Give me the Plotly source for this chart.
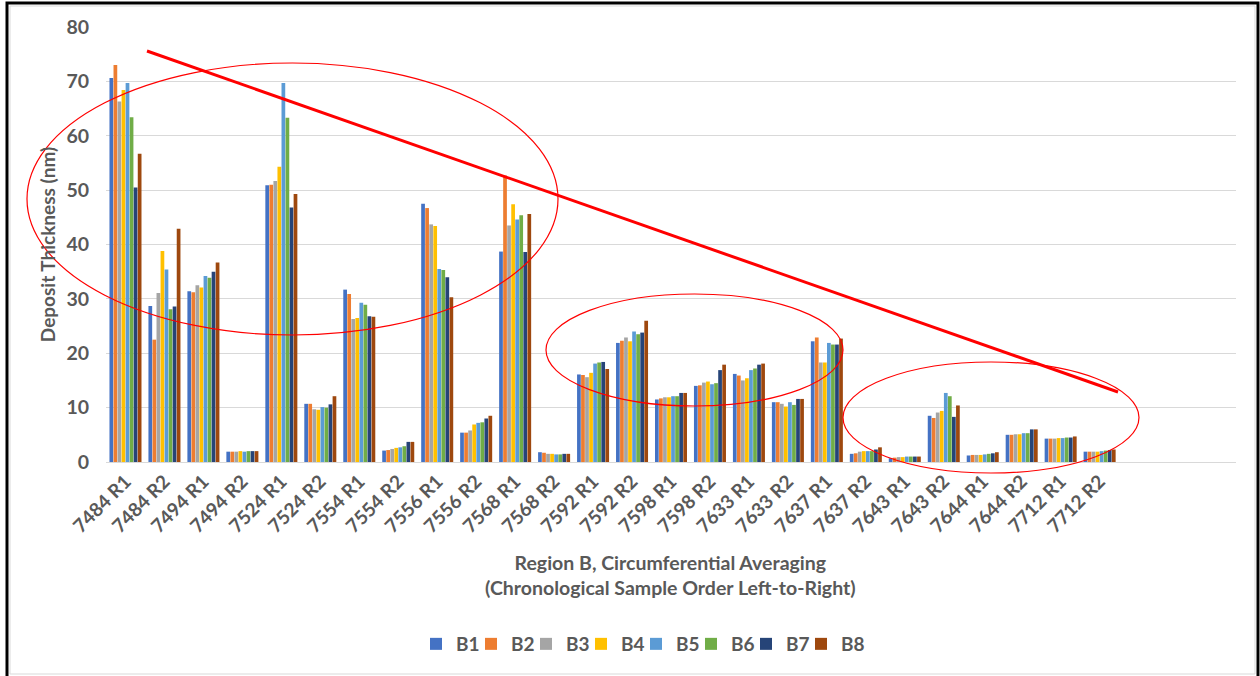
import plotly.graph_objects as go

# Sample identifiers (chronological order)
samples = ["7484 R1", "7484 R2", "7494 R1", "7494 R2", "7524 R1", "7524 R2",
           "7554 R1", "7554 R2", "7556 R1", "7556 R2", "7568 R1", "7568 R2",
           "7592 R1", "7592 R2", "7598 R1", "7598 R2", "7633 R1", "7633 R2",
           "7637 R1", "7637 R2", "7643 R1", "7643 R2", "7644 R1", "7644 R2",
           "7712 R1", "7712 R2"]

# Deposit thickness (nm) per circumferential position
B1 = [70.6, 28.7, 31.4, 1.9, 50.9, 10.7, 31.7, 2.1, 47.5, 5.4, 38.7, 1.8,
      16.1, 21.9, 11.5, 14.0, 16.2, 11.0, 22.2, 1.5, 0.7, 8.5, 1.2, 5.0, 4.3, 1.9]
B2 = [73.0, 22.5, 31.2, 1.9, 51.0, 10.7, 30.9, 2.2, 46.7, 5.4, 52.7, 1.7,
      16.0, 22.3, 11.7, 14.1, 15.9, 11.0, 22.9, 1.6, 0.8, 8.1, 1.3, 5.0, 4.3, 1.9]
B3 = [66.3, 31.1, 32.5, 1.9, 51.7, 9.7, 26.3, 2.4, 43.7, 5.8, 43.5, 1.5,
      15.6, 22.9, 11.9, 14.6, 15.0, 10.7, 18.3, 1.9, 0.9, 9.1, 1.3, 5.1, 4.3, 1.9]
B4 = [68.4, 38.8, 32.1, 2.0, 54.3, 9.6, 26.5, 2.6, 43.4, 6.9, 47.4, 1.5,
      16.4, 22.2, 11.9, 14.8, 15.4, 10.2, 18.3, 2.0, 0.9, 9.4, 1.3, 5.1, 4.4, 1.9]
B5 = [69.7, 35.4, 34.2, 1.9, 69.7, 10.1, 29.3, 2.7, 35.5, 7.2, 44.6, 1.4,
      18.1, 24.0, 12.1, 14.3, 16.9, 11.0, 21.9, 2.0, 1.0, 12.7, 1.4, 5.3, 4.4, 2.0]
B6 = [63.4, 28.1, 33.9, 2.0, 63.3, 10.0, 28.9, 2.9, 35.3, 7.3, 45.4, 1.4,
      18.3, 23.5, 12.1, 14.5, 17.2, 10.5, 21.6, 2.0, 1.0, 12.1, 1.5, 5.3, 4.5, 2.1]
B7 = [50.5, 28.6, 35.0, 2.0, 46.8, 10.6, 26.8, 3.7, 34.0, 8.0, 38.6, 1.5,
      18.4, 23.8, 12.7, 16.9, 17.9, 11.6, 21.6, 2.3, 1.0, 8.3, 1.6, 6.0, 4.5, 2.2]
B8 = [56.7, 42.9, 36.7, 2.0, 49.3, 12.1, 26.7, 3.7, 30.3, 8.5, 45.6, 1.5,
      17.1, 26.0, 12.7, 17.9, 18.1, 11.6, 22.7, 2.7, 1.0, 10.4, 1.8, 6.0, 4.7, 2.3]

series_names = ["B1", "B2", "B3", "B4", "B5", "B6", "B7", "B8"]
series_values = [B1, B2, B3, B4, B5, B6, B7, B8]
colors = ["#4472C4", "#ED7D31", "#A5A5A5", "#FFC000",
          "#5B9BD5", "#70AD47", "#264478", "#9E480E"]

y_ticks = [0, 10, 20, 30, 40, 50, 60, 70, 80]

FONT = "Lato"
TXT = "#595959"
W, H = 1260, 676
L, R, T, B = 106, 1236, 27, 462  # plot area in pixels


def px(x):
    return (x - L) / (R - L)


def py(y):
    return (B - y) / (B - T)


fig = go.Figure()
for name, vals, col in zip(series_names, series_values, colors):
    fig.add_trace(go.Bar(
        x=samples, y=vals, name=name,
        marker=dict(color=col, line=dict(width=0)),
    ))
# blank trailing legend slot so the last entry's label has room
fig.add_trace(go.Scatter(x=[None], y=[None], mode="markers", name=" ",
                         marker=dict(color="rgba(0,0,0,0)"), hoverinfo="skip"))

shapes = []
# outer frame
shapes.append(dict(type="rect", xref="paper", yref="paper",
                   x0=px(7), x1=px(1258), y0=py(3), y1=py(690),
                   line=dict(color="black", width=3), layer="below"))
shapes.append(dict(type="rect", xref="paper", yref="paper",
                   x0=px(10), x1=px(1255), y0=py(6), y1=py(674),
                   line=dict(color="#D9D9D9", width=1), layer="below"))
# highlighted groups
for x0, x1, y0, y1 in [(27, 558, 63, 335), (546, 843, 294, 406), (843, 1139, 362, 473)]:
    shapes.append(dict(type="circle", xref="paper", yref="paper",
                       x0=px(x0), x1=px(x1), y0=py(y1), y1=py(y0),
                       line=dict(color="#FF0000", width=1.2)))
# declining trend
shapes.append(dict(type="line", xref="paper", yref="paper",
                   x0=px(147), y0=py(51), x1=px(1118), y1=py(392),
                   line=dict(color="#FF0000", width=3)))

fig.update_layout(
    width=W, height=H,
    margin=dict(l=L, r=W - R, t=T, b=H - B),
    paper_bgcolor="white", plot_bgcolor="white",
    barmode="group", bargap=0.17, bargroupgap=0.08,
    font=dict(family=FONT, color=TXT, size=19),
    shapes=shapes,
    showlegend=True,
    legend=dict(orientation="h", xanchor="left", yanchor="middle",
                x=px(416), y=py(644),
                font=dict(family=FONT, size=19, color=TXT, weight="bold"),
                traceorder="normal", entrywidth=10),
    annotations=[
        dict(text="<b>Region B, Circumferential Averaging</b><br><b>(Chronological Sample Order Left-to-Right)</b>",
             xref="paper", yref="paper", x=px(670), y=py(575),
             xanchor="center", yanchor="middle", showarrow=False,
             font=dict(family=FONT, size=19.5, color=TXT)),
    ],
)

fig.update_xaxes(
    type="category", range=[-0.5, 28.5],
    tickangle=-45, tickfont=dict(family=FONT, size=19, color=TXT, weight="bold"),
    showgrid=False, showline=True, linecolor="#D9D9D9", linewidth=1,
    ticks="", zeroline=False,
)
fig.update_yaxes(
    range=[0, 80], tickvals=y_ticks,
    tickfont=dict(family=FONT, size=19.5, color=TXT, weight="bold"),
    showgrid=True, gridcolor="#D9D9D9", gridwidth=1,
    zeroline=False, showline=False, ticks="",
    ticklabelstandoff=16,
    title=dict(text="<b>Deposit Thickness (nm)</b>", standoff=5,
               font=dict(family=FONT, size=19, color=TXT)),
)

fig.write_html("out.html")
